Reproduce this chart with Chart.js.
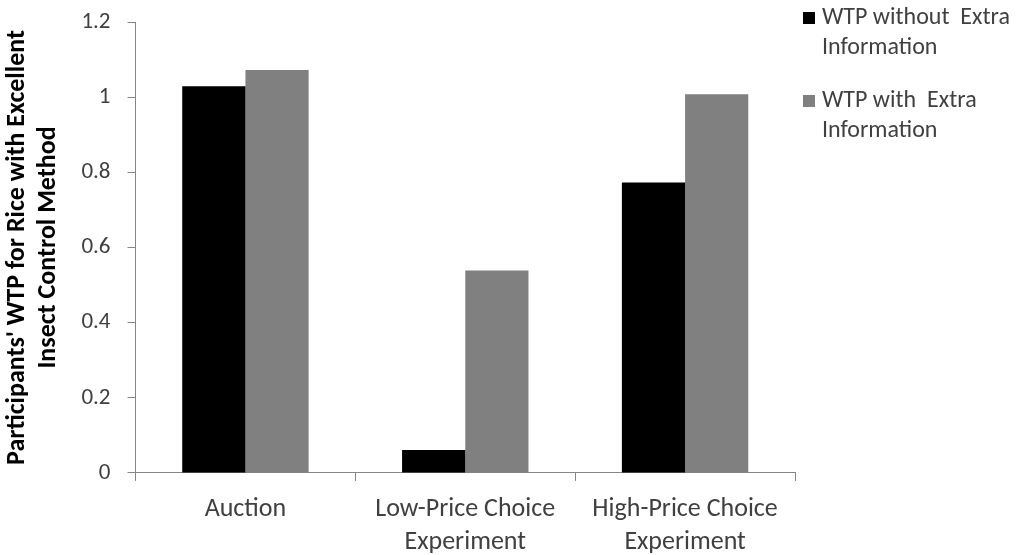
<!DOCTYPE html>
<html>
<head>
<meta charset="utf-8">
<script src="https://cdn.jsdelivr.net/npm/chart.js@4"></script>
<style>
  html, body { margin: 0; padding: 0; background: #fff; }
  #wrap { width: 1029px; height: 555px; position: relative; }
</style>
</head>
<body>
<div id="wrap"><canvas id="grafico"></canvas></div>
<script>
// dados
var categorias = [['Auction'], ['Low-Price Choice', 'Experiment'], ['High-Price Choice', 'Experiment']]
var semInfo = [1.029, 0.061, 0.773]
var comInfo = [1.072, 0.539, 1.008]
var nomesSeries = [['WTP without  Extra', 'Information'], ['WTP with  Extra', 'Information']]
var tituloY = ["Participants' WTP for Rice with Excellent", 'Insect Control Method']

var fonte = "Carlito, 'Open Sans', 'Noto Sans', sans-serif"

// legenda desenhada a direita, fora da area do grafico
const legendaLateral = {
    id: 'legendaLateral',
    afterDraw(chart) {
        const c = chart.ctx
        c.save()
        c.font = '24px ' + fonte
        c.textBaseline = 'middle'
        let y = 18
        chart.data.datasets.forEach(function (ds, i) {
            c.fillStyle = ds.backgroundColor
            c.fillRect(803, y - 6, 12, 12)
            c.fillStyle = '#404040'
            nomesSeries[i].forEach(function (linha, j) {
                c.fillText(linha, 822, y + j * 30)
            })
            y += 83
        })
        c.restore()
    }
}

const ctx = document.getElementById('grafico')
var grafico = new Chart(ctx, {
    type: 'bar',
    data: {
        labels: categorias,
        datasets: [{
            label: nomesSeries[0].join(' '),
            backgroundColor: '#000000',
            data: semInfo,
            barPercentage: 1,
            categoryPercentage: 0.575
        }, {
            label: nomesSeries[1].join(' '),
            backgroundColor: '#808080',
            data: comInfo,
            barPercentage: 1,
            categoryPercentage: 0.575
        }]
    },
    options: {
        responsive: true,
        maintainAspectRatio: false,
        animation: false,
        layout: { padding: { left: 2, right: 234, top: 22, bottom: -16 } },
        scales: {
            x: {
                grid: { offset: true, drawOnChartArea: false, tickLength: 8, color: '#868686' },
                border: { color: '#868686' },
                ticks: { color: '#404040', font: { size: 26, family: fonte, lineHeight: 1.27 }, padding: 12, maxRotation: 0 }
            },
            y: {
                min: 0,
                max: 1.2,
                grid: { drawOnChartArea: false, tickLength: 8, color: '#868686' },
                border: { color: '#868686' },
                ticks: {
                    stepSize: 0.2,
                    color: '#404040',
                    // lineHeight pequeno so p/ o rotulo do topo nao empurrar a area do grafico
                    font: { size: 23, family: fonte, lineHeight: 0.1 },
                    padding: 17,
                    callback: function (v) { return String(Math.round(v * 10) / 10) }
                },
                title: {
                    display: true,
                    text: tituloY,
                    color: '#000000',
                    font: { size: 26, weight: 'bold', family: fonte, lineHeight: 1.2 },
                    padding: { top: 0, bottom: 0 }
                }
            }
        },
        plugins: {
            legend: { display: false },
            tooltip: { enabled: false }
        }
    },
    plugins: [legendaLateral]
})
</script>
</body>
</html>
